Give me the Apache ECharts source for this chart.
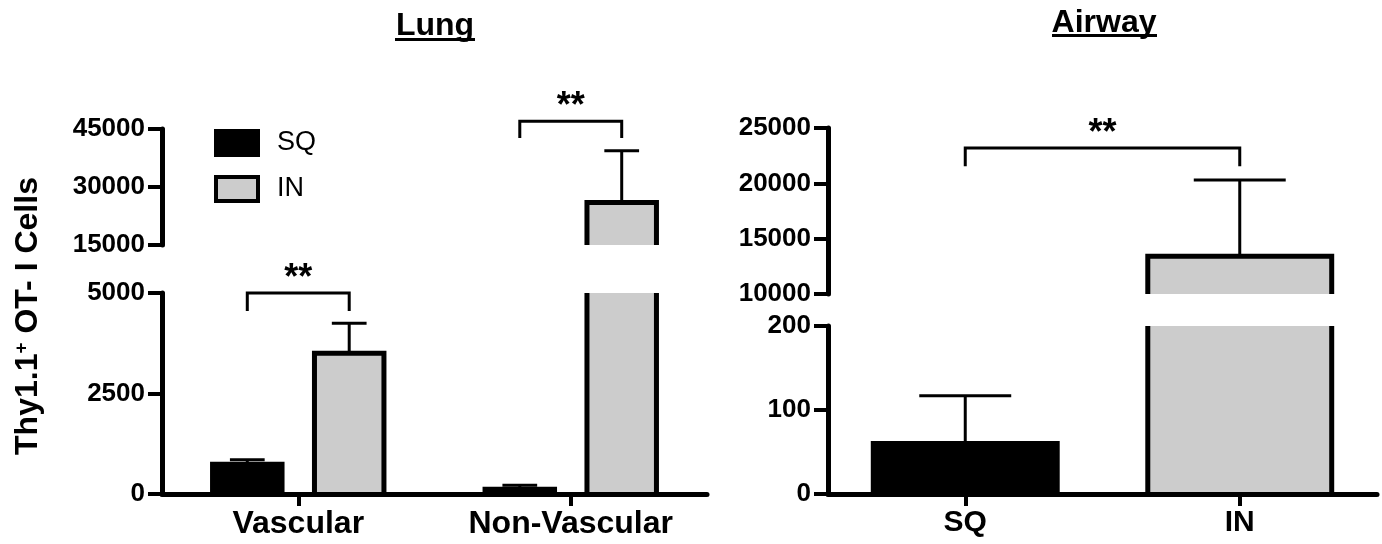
<!DOCTYPE html>
<html><head><meta charset="utf-8">
<script src="https://cdn.jsdelivr.net/npm/echarts@6/dist/echarts.min.js"></script>
<style>html,body{margin:0;padding:0;background:#fff}#c{width:1382px;height:544px}</style>
</head><body><div id="c"></div>
<script>
// ---------- data ----------
const lungCategories = ['Vascular', 'Non-Vascular'];
const lungSQ = [740, 120];
const lungSQErr = [110, 100];
const lungIN = [3500, 26000];
const lungINErr = [750, 13400];
const lungLowerTicks = [0, 2500, 5000];
const lungUpperTicks = [15000, 30000, 45000];
// [category index, bracket level, leg end]
const lungSigLower = [[0, 5000, 4550]];
const lungSigUpper = [[1, 47000, 42700]];

const airwayCategories = ['SQ', 'IN'];
const airwayMean = [60, 13400];
const airwayErr = [57, 6900];
const airwayLowerTicks = [0, 100, 200];
const airwayUpperTicks = [10000, 15000, 20000, 25000];
// [from category, to category, bracket level, leg end]
const airwaySig = [[0, 1, 23200, 21550]];

// ---------- styling helpers ----------
const FONT = 'Liberation Sans';
const GREY = '#cccccc';

function valAxis(gridIndex, ticks) {
  return {
    type: 'value', gridIndex: gridIndex, z: 10,
    min: ticks[0], max: ticks[ticks.length - 1], interval: ticks[1] - ticks[0],
    axisLine: {show: true, lineStyle: {color: '#000', width: 5}},
    axisTick: {show: true, length: 14, lineStyle: {color: '#000', width: 4}},
    axisLabel: {margin: 17, color: '#000', fontFamily: FONT, fontWeight: 'bold', fontSize: 26,
      formatter: function (v) { return String(v); }},
    splitLine: {show: false}
  };
}
function catAxis(gridIndex, cats, show, fontSize) {
  return {
    type: 'category', gridIndex: gridIndex, data: cats, show: show, z: 10, boundaryGap: true,
    axisLine: {show: true, onZero: false, lineStyle: {color: '#000', width: 5}},
    axisTick: {show: true, alignWithLabel: true, length: 12, lineStyle: {color: '#000', width: 4}},
    axisLabel: {interval: 0, margin: 14, color: '#000', fontFamily: FONT, fontWeight: 'bold', fontSize: fontSize || 30},
    splitLine: {show: false}
  };
}

function barRender(offsetFrac, widthFrac, fillFn) {
  return function (params, api) {
    const cat = api.value(0), mean = api.value(1), err = api.value(2);
    const band = api.size([1, 0], [cat, 0])[0];
    const c = api.coord([cat, mean]);
    const base = api.coord([cat, 0])[1];
    const cx = c[0] + offsetFrac * band;
    const w = widthFrac * band;
    const top = c[1];
    const errTop = api.coord([cat, mean + err])[1];
    const x0 = cx - w / 2, x1 = cx + w / 2;
    return {
      type: 'group',
      children: [
        {type: 'line', shape: {x1: cx, y1: top, x2: cx, y2: errTop}, style: {stroke: '#000', lineWidth: 3}},
        {type: 'line', shape: {x1: cx - w / 4, y1: errTop, x2: cx + w / 4, y2: errTop}, style: {stroke: '#000', lineWidth: 3}},
        {type: 'rect', shape: {x: x0, y: top, width: w, height: base - top}, style: {fill: fillFn(cat)}},
        {type: 'polyline', shape: {points: [[x0, base], [x0, top], [x1, top], [x1, base]]},
          style: {stroke: '#000', lineWidth: 5, fill: null, lineJoin: 'miter'}}
      ]
    };
  };
}

function bracketShape(xa, xb, yLevel, yLeg) {
  return [
    {type: 'polyline', shape: {points: [[xa, yLeg], [xa, yLevel], [xb, yLevel], [xb, yLeg]]},
      style: {stroke: '#000', lineWidth: 3, fill: null}},
    {type: 'text', x: (xa + xb) / 2, y: yLevel - 14,
      style: {text: '**', font: 'bold 36px "' + FONT + '"', fill: '#000', align: 'center', verticalAlign: 'middle'}}
  ];
}
function lungBracketRender(offsetFrac) {
  return function (params, api) {
    const cat = api.value(0), level = api.value(1), leg = api.value(2);
    const band = api.size([1, 0], [cat, 0])[0];
    const c = api.coord([cat, level]);
    const yLeg = api.coord([cat, leg])[1];
    return {type: 'group', children: bracketShape(c[0] - offsetFrac * band, c[0] + offsetFrac * band, c[1], yLeg)};
  };
}
function airwayBracketRender(params, api) {
  const a = api.value(0), b = api.value(1), level = api.value(2), leg = api.value(3);
  const pa = api.coord([a, level]);
  const pb = api.coord([b, level]);
  const yLeg = api.coord([a, leg])[1];
  return {type: 'group', children: bracketShape(pa[0], pb[0], pa[1], yLeg)};
}

const OFF = 0.187, LW = 0.255, AW = 0.67;
const sqData = lungCategories.map(function (c, i) { return [i, lungSQ[i], lungSQErr[i]]; });
const inData = lungCategories.map(function (c, i) { return [i, lungIN[i], lungINErr[i]]; });
const awData = airwayCategories.map(function (c, i) { return [i, airwayMean[i], airwayErr[i]]; });

function customSeries(name, xi, yi, data, render, clip, encY) {
  return {type: 'custom', name: name, xAxisIndex: xi, yAxisIndex: yi, data: data, renderItem: render,
    clip: clip, z: 3, encode: {x: 0, y: encY == null ? 1 : encY}, silent: true};
}

const option = {
  animation: false,
  backgroundColor: '#fff',
  grid: [
    {left: 162, top: 129, width: 545, height: 116, outerBoundsMode: 'none', containLabel: false},
    {left: 162, top: 293, width: 545, height: 201, outerBoundsMode: 'none', containLabel: false},
    {left: 828, top: 128, width: 549, height: 166, outerBoundsMode: 'none', containLabel: false},
    {left: 828, top: 326, width: 549, height: 168, outerBoundsMode: 'none', containLabel: false}
  ],
  xAxis: [
    catAxis(0, lungCategories, false, 32),
    catAxis(1, lungCategories, true, 32),
    catAxis(2, airwayCategories, false, 30),
    catAxis(3, airwayCategories, true, 30)
  ],
  yAxis: [
    valAxis(0, lungUpperTicks),
    valAxis(1, lungLowerTicks),
    valAxis(2, airwayUpperTicks),
    valAxis(3, airwayLowerTicks)
  ],
  legend: {
    orient: 'vertical', left: 214, top: 129, padding: 0, itemWidth: 42, itemHeight: 24, itemGap: 18,
    selectedMode: false,
    textStyle: {fontFamily: FONT, fontSize: 27, color: '#000', padding: [0, 0, 0, 14]},
    data: [
      {name: 'SQ', icon: 'rect', itemStyle: {color: '#000', borderColor: '#000', borderWidth: 4}},
      {name: 'IN', icon: 'rect', itemStyle: {color: GREY, borderColor: '#000', borderWidth: 4}}
    ]
  },
  graphic: [
    {type: 'text', x: 435, y: 10, style: {text: 'Lung', font: 'bold 32px "' + FONT + '"', fill: '#000', align: 'center', verticalAlign: 'top'}},
    {type: 'rect', shape: {x: 395, y: 38, width: 80, height: 3}, style: {fill: '#000'}},
    {type: 'text', x: 1104, y: 7, style: {text: 'Airway', font: 'bold 32px "' + FONT + '"', fill: '#000', align: 'center', verticalAlign: 'top'}},
    {type: 'rect', shape: {x: 1052, y: 34, width: 105, height: 3}, style: {fill: '#000'}},
    {type: 'text', x: 28, y: 316, rotation: Math.PI / 2,
      style: {text: '{a|Thy1.1}{b|+}{a| OT- I Cells}', align: 'center', verticalAlign: 'middle',
        rich: {
          a: {font: 'bold 32px "' + FONT + '"', fill: '#000'},
          b: {font: 'bold 19px "' + FONT + '"', fill: '#000', verticalAlign: 'top'}
        }}}
  ],
  series: [
    customSeries('SQ', 0, 0, sqData, barRender(-OFF, LW, function () { return '#000'; }), true),
    customSeries('SQ', 1, 1, sqData, barRender(-OFF, LW, function () { return '#000'; }), true),
    customSeries('IN', 0, 0, inData, barRender(OFF, LW, function () { return GREY; }), true),
    customSeries('IN', 1, 1, inData, barRender(OFF, LW, function () { return GREY; }), true),
    customSeries('Airway', 2, 2, awData, barRender(0, AW, function (c) { return c === 0 ? '#000' : GREY; }), true),
    customSeries('Airway', 3, 3, awData, barRender(0, AW, function (c) { return c === 0 ? '#000' : GREY; }), true),
    customSeries('sigLower', 1, 1, lungSigLower, lungBracketRender(OFF), false),
    customSeries('sigUpper', 0, 0, lungSigUpper, lungBracketRender(OFF), false),
    customSeries('sigAirway', 2, 2, airwaySig, airwayBracketRender, false, 2)
  ]
};

const chart = echarts.init(document.getElementById('c'), null, {renderer: 'canvas'});
chart.setOption(option);
</script>
</body></html>
